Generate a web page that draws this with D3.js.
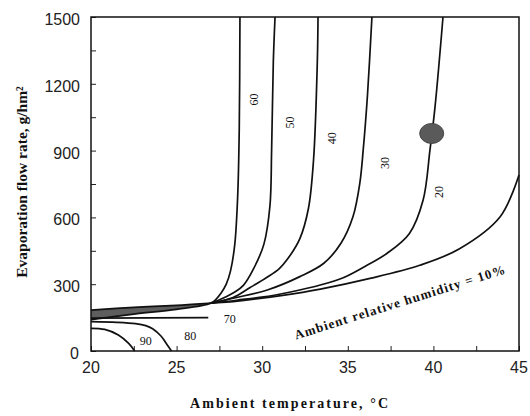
<!DOCTYPE html>
<html>
<head>
<meta charset="utf-8">
<script src="https://cdn.jsdelivr.net/npm/d3@7"></script>
<style>
  body { margin: 0; background: #fff; }
  .tick-label { font-family: "Liberation Sans", sans-serif; font-size: 16px; fill: #222; }
  .curve-label { font-family: "Liberation Serif", serif; font-size: 12px; fill: #111; }
  .title { font-family: "Liberation Serif", serif; font-weight: bold; fill: #111; }
</style>
</head>
<body>
<div id="chart"></div>
<script>
// axis ticks
var xTicks = [20, 25, 30, 35, 40, 45];
var yTicks = [0, 300, 600, 900, 1200, 1500];

// curves: [temperature, flow rate]
var rh10 = [[20, 184], [22.5, 196], [25, 205], [27, 215], [28.3, 222], [31.2, 250], [33.4, 278],
            [36.3, 326], [39.2, 385], [41.5, 458], [43.9, 603], [45, 790]];
var rh20 = [[27, 215], [28.5, 228], [31, 255], [34.5, 322],
            [36, 380], [37.3, 439], [38.6, 528], [39.4, 678], [39.8, 903], [40.1, 1100], [40.56, 1500]];
var rh30 = [[27, 215], [28.3, 237], [30.3, 274], [32.2, 334],
            [33.6, 394], [34.6, 484], [35.3, 603], [35.7, 753], [35.9, 903], [36.15, 1150], [36.41, 1500]];
var rh40 = [[27, 215], [28.3, 240], [29.3, 285], [30.26, 330],
            [31, 370], [31.5, 415], [32.2, 505], [32.7, 640], [33, 860], [33.22, 1300], [33.26, 1500]];
var rh50 = [[27, 215], [27.7, 237], [28.4, 265], [28.9, 295],
            [29.5, 370], [30.1, 480], [30.45, 650], [30.55, 900], [30.65, 1300], [30.75, 1500]];
var rh60 = [[20, 141], [22.5, 166], [25, 187], [27, 215], [27.3, 232], [27.6, 260], [27.9, 300],
            [28.15, 360], [28.4, 480], [28.57, 700], [28.66, 1000], [28.7, 1500]];
var rh70 = [[20, 148], [26.85, 150]];
var rh80 = [[20, 132], [21.5, 129], [22.6, 123], [23.2, 114], [23.6, 100], [24.1, 66], [24.5, 22], [24.7, 0]];
var rh90 = [[20, 102], [20.8, 97], [21.6, 72], [22.2, 34], [22.55, 0]];

// curve labels: [text, temperature, flow rate]
var curveLabels = [["60", 29.5, 1129], ["50", 31.6, 1026], ["40", 34.1, 956],
                   ["30", 37.2, 844], ["20", 40.3, 714]];
var flatLabels = [["70", 28.1, 148], ["80", 25.8, 72], ["90", 23.2, 48]];
var dot = [39.9, 977];

var margin = { top: 17, right: 11, bottom: 65, left: 91 },
    width = 530 - margin.left - margin.right,
    height = 416 - margin.top - margin.bottom;

var svg = d3.select("#chart")
    .append("svg")
    .attr("width", 530)
    .attr("height", 416)
    .append("g")
    .attr("transform", "translate(" + margin.left + "," + margin.top + ")");

var x = d3.scaleLinear().domain([20, 45]).range([0, width]);
var y = d3.scaleLinear().domain([0, 1500]).range([height, 0]);

// minor ticks pointing inward
svg.append("g")
    .attr("transform", "translate(0," + height + ")")
    .call(d3.axisTop(x).tickValues(d3.range(20, 45.1, 2.5)).tickSize(5).tickFormat(""))
    .call(function (g) { g.select(".domain").remove(); g.selectAll("line").attr("stroke", "#222"); });
svg.append("g")
    .call(d3.axisRight(y).tickValues(d3.range(0, 1501, 150)).tickSize(5).tickFormat(""))
    .call(function (g) { g.select(".domain").remove(); g.selectAll("line").attr("stroke", "#222"); });

// tick labels
svg.selectAll(".xl").data(xTicks).enter().append("text")
    .attr("class", "tick-label")
    .attr("x", function (d) { return x(d); })
    .attr("y", height + 22)
    .attr("text-anchor", "middle")
    .text(function (d) { return d; });
svg.selectAll(".yl").data(yTicks).enter().append("text")
    .attr("class", "tick-label")
    .attr("x", function (d) { return d === 0 ? -12 : -11; })
    .attr("y", function (d) { return y(d) + 8; })
    .attr("text-anchor", "end")
    .text(function (d) { return d; });

var line = d3.line()
    .x(function (d) { return x(d[0]); })
    .y(function (d) { return y(d[1]); })
    .curve(d3.curveCatmullRom.alpha(0.5));

// grey band between the curves at low temperature
var bandTop = rh10.filter(function (d) { return d[0] <= 27; });
var bandBottom = rh60.filter(function (d) { return d[0] <= 27; });
svg.append("path")
    .datum(bandTop.concat(bandBottom.slice().reverse()))
    .attr("fill", "#5e5e5e")
    .attr("d", d3.line()
        .x(function (d) { return x(d[0]); })
        .y(function (d) { return y(d[1]); })
        .curve(d3.curveLinearClosed));

[rh10, rh20, rh30, rh40, rh50, rh60, rh70, rh80, rh90].forEach(function (c) {
    svg.append("path")
        .datum(c)
        .attr("fill", "none")
        .attr("stroke", "#111")
        .attr("stroke-width", 1.7)
        .attr("d", line);
});

// the grey marker on the 20% curve
svg.append("ellipse")
    .attr("cx", x(dot[0]))
    .attr("cy", y(dot[1]))
    .attr("rx", 12)
    .attr("ry", 10)
    .attr("fill", "#5a5a5a")
    .attr("stroke", "#444")
    .attr("stroke-width", 1);

// rotated humidity labels
svg.selectAll(".cl").data(curveLabels).enter().append("text")
    .attr("class", "curve-label")
    .attr("text-anchor", "middle")
    .attr("transform", function (d) {
        return "translate(" + (x(d[1]) + 4) + "," + y(d[2]) + ") rotate(-90)";
    })
    .text(function (d) { return d[0]; });
svg.selectAll(".fl").data(flatLabels).enter().append("text")
    .attr("class", "curve-label")
    .attr("font-size", "13px")
    .attr("fill", "#111")
    .attr("text-anchor", "middle")
    .attr("x", function (d) { return x(d[1]); })
    .attr("y", function (d) { return y(d[2]) + 5; })
    .text(function (d) { return d[0]; });

svg.append("text")
    .attr("class", "title")
    .attr("font-size", "13px")
    .attr("text-anchor", "middle")
    .attr("textLength", 220)
    .attr("transform", "translate(" + x(38.1) + "," + y(200) + ") rotate(-17.5)")
    .text("Ambient relative humidity = 10%");

// frame
svg.append("rect")
    .attr("width", width)
    .attr("height", height)
    .attr("fill", "none")
    .attr("stroke", "#111")
    .attr("stroke-width", 1.5);

// axis titles
svg.append("text")
    .attr("class", "title")
    .attr("font-size", "14px")
    .attr("text-anchor", "middle")
    .attr("textLength", 198)
    .attr("x", width / 2 - 16)
    .attr("y", height + 57)
    .text("Ambient temperature, \u00B0C");
svg.append("text")
    .attr("class", "title")
    .attr("font-size", "15.5px")
    .attr("text-anchor", "middle")
    .attr("transform", "translate(-64," + (height / 2 - 2) + ") rotate(-90)")
    .text("Evaporation flow rate, g/hm\u00B2");
</script>
</body>
</html>
